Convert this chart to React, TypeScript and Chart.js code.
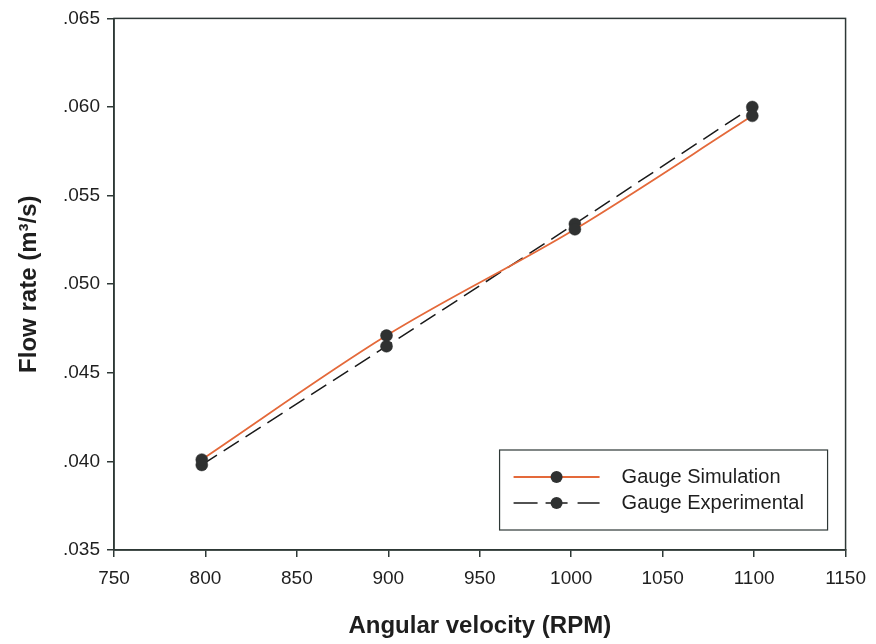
import React, { useEffect, useRef } from "react";
import { Chart, registerables } from "chart.js";

Chart.register(...registerables);

const rpm = [798, 899, 1002, 1099];
const simulation = [0.0401, 0.0471, 0.0531, 0.0595];
const experimental = [0.0398, 0.0465, 0.0534, 0.06];
const seriesLabels = ["Gauge Simulation", "Gauge Experimental"];
const xTitle = "Angular velocity (RPM)";
const yTitle = "Flow rate (m³/s)";

const AXIS = "#2e3836";
const TEXT = "#1e1e1e";
const ORANGE = "#e4693a";
const MARK = "#2f3131";
const FAMILY = '"Liberation Sans", Arial, sans-serif';

export default function App() {
  const ref = useRef<HTMLCanvasElement>(null);
  useEffect(() => {
    document.body.style.margin = "0";
    const canvas = ref.current!;
    const boxPlugin = {
      id: "boxAndLegend",
      afterDatasetsDraw(chart: any) {
        const { ctx, chartArea } = chart;
        ctx.save();
        ctx.strokeStyle = AXIS;
        ctx.lineWidth = 1.5;
        ctx.strokeRect(chartArea.left, chartArea.top, chartArea.right - chartArea.left, chartArea.bottom - chartArea.top);
        // legend
        const bx = chartArea.right - 346;
        const by = chartArea.bottom - 100;
        const bw = 328;
        const bh = 80;
        ctx.fillStyle = "#fff";
        ctx.fillRect(bx, by, bw, bh);
        ctx.strokeStyle = AXIS;
        ctx.lineWidth = 1.2;
        ctx.strokeRect(bx, by, bw, bh);
        const rows = [by + 27, by + 53];
        chart.data.datasets.forEach((ds: any, i: number) => {
          const y = rows[i];
          ctx.beginPath();
          ctx.strokeStyle = ds.borderColor;
          ctx.lineWidth = ds.borderWidth;
          if (ds.borderDash && ds.borderDash.length) {
            ctx.moveTo(bx + 14, y); ctx.lineTo(bx + 38, y);
            ctx.moveTo(bx + 46, y); ctx.lineTo(bx + 68, y);
            ctx.moveTo(bx + 78, y); ctx.lineTo(bx + 100, y);
          } else {
            ctx.moveTo(bx + 14, y); ctx.lineTo(bx + 100, y);
          }
          ctx.stroke();
          ctx.beginPath();
          ctx.fillStyle = ds.pointBackgroundColor;
          ctx.arc(bx + 57, y, 6, 0, Math.PI * 2);
          ctx.fill();
          ctx.fillStyle = TEXT;
          ctx.font = `20px ${FAMILY}`;
          ctx.textBaseline = "middle";
          ctx.textAlign = "left";
          ctx.fillText(ds.label, bx + 122, y);
        });
        ctx.restore();
      },
    };
    const tickFont = { family: FAMILY, size: 19 };
    const titleFont = { family: FAMILY, size: 24, weight: "bold" };
    const chart = new Chart(canvas, {
      type: "line",
      data: {
        datasets: [
          {
            label: seriesLabels[0],
            data: rpm.map((x, i) => ({ x, y: simulation[i] })),
            borderColor: ORANGE,
            borderWidth: 1.8,
            cubicInterpolationMode: "monotone",
            pointRadius: 6,
            pointBackgroundColor: MARK,
            pointBorderColor: MARK,
            pointBorderWidth: 0.5,
            order: 1,
          },
          {
            label: seriesLabels[1],
            data: rpm.map((x, i) => ({ x, y: experimental[i] })),
            borderColor: "#1a1a1a",
            borderWidth: 1.5,
            borderDash: [18, 8],
            pointRadius: 6,
            pointBackgroundColor: MARK,
            pointBorderColor: MARK,
            pointBorderWidth: 0.5,
            order: 2,
          },
        ],
      },
      options: {
        animation: false,
        responsive: false,
        maintainAspectRatio: false,
        layout: { padding: { left: 0, right: 28, top: 17, bottom: 0 } },
        plugins: { legend: { display: false }, tooltip: { enabled: false } },
        scales: {
          x: {
            type: "linear",
            min: 750,
            max: 1150,
            ticks: { stepSize: 50, color: TEXT, font: tickFont, padding: 10, maxRotation: 0, callback: (v: any) => String(v) },
            grid: { display: true, drawOnChartArea: false, drawTicks: true, tickLength: 7, color: AXIS, lineWidth: 1.5 },
            border: { display: true, color: AXIS, width: 1.5 },
            title: {
              display: true,
              text: xTitle,
              color: TEXT,
              font: titleFont,
              padding: { top: 0, bottom: 3 },
            },
            afterFit(scale: any) { scale.height = 94; },
          },
          y: {
            type: "linear",
            min: 0.035,
            max: 0.065,
            ticks: {
              stepSize: 0.005,
              color: TEXT,
              font: tickFont,
              padding: 7,
              callback: (v: any) => Number(v).toFixed(3).replace(/^0/, ""),
            },
            grid: { display: true, drawOnChartArea: false, drawTicks: true, tickLength: 7, color: AXIS, lineWidth: 1.5 },
            border: { display: true, color: AXIS, width: 1.5 },
            title: {
              display: true,
              text: yTitle,
              color: TEXT,
              font: titleFont,
              padding: { top: 15, bottom: 0 },
            },
            afterFit(scale: any) { scale.width = 114; },
          },
        },
      },
      plugins: [boxPlugin],
    } as any);
    return () => chart.destroy();
  }, []);
  return (
    <div style={{ width: 876, height: 644, background: "#fff" }}>
      <canvas ref={ref} width={876} height={644} style={{ display: "block" }} />
    </div>
  );
}
